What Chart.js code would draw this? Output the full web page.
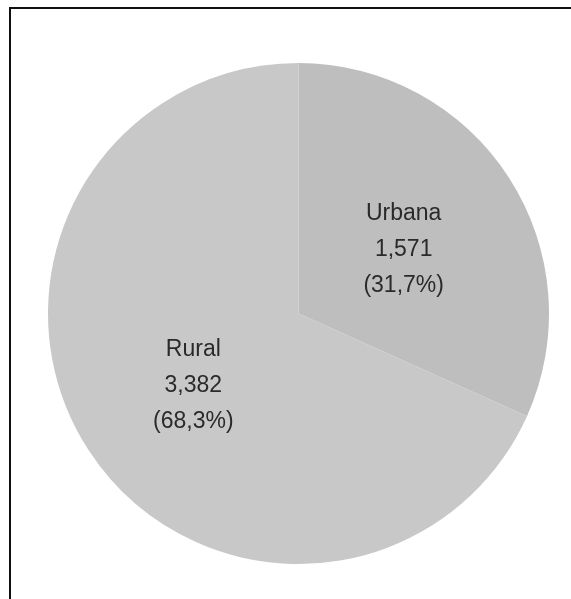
<!DOCTYPE html>
<html lang="es">
<head>
  <meta charset="UTF-8" />
  <title>Población urbana y rural</title>
  <script src="https://cdn.jsdelivr.net/npm/chart.js"></script>
  <style>
    html, body { margin: 0; padding: 0; background: #ffffff; overflow: hidden; }
    .frame {
      position: absolute; left: 9px; top: 7px; width: 640px; height: 700px;
      border: 2px solid #111;
    }
    #pieChart { position: absolute; left: 0; top: 0; }
  </style>
</head>
<body>
  <div class="frame"></div>
  <canvas id="pieChart" width="571" height="599"></canvas>

  <script>
    const categories = ['Urbana', 'Rural'];
    const values = [1571, 3382];
    const sliceColors = ['#bebebe', '#c8c8c8'];

    const total = values.reduce((a, b) => a + b, 0);

    // etiquetas dentro de cada sector: nombre, valor, porcentaje
    const sliceLabels = {
      id: 'sliceLabels',
      afterDatasetsDraw(chart) {
        const ctx = chart.ctx;
        const meta = chart.getDatasetMeta(0);
        ctx.save();
        ctx.fillStyle = '#2a2a2a';
        ctx.font = '23px "Liberation Sans", Arial, sans-serif';
        ctx.textAlign = 'center';
        ctx.textBaseline = 'middle';
        meta.data.forEach((arc, i) => {
          const p = arc.getCenterPoint();
          const v = values[i];
          const pct = (v / total * 100).toFixed(1).replace('.', ',');
          const lines = [categories[i], v.toLocaleString('en-US'), '(' + pct + '%)'];
          lines.forEach((t, k) => {
            ctx.fillText(t, p.x, p.y + 4 + (k - 1) * 36);
          });
        });
        ctx.restore();
      }
    };

    new Chart(document.getElementById('pieChart').getContext('2d'), {
      type: 'pie',
      data: {
        labels: categories,
        datasets: [{
          data: values,
          backgroundColor: sliceColors,
          borderWidth: 0
        }]
      },
      options: {
        responsive: false,
        animation: false,
        layout: { padding: { left: 48, right: 22, top: 63, bottom: 35 } },
        plugins: {
          legend: { display: false },
          tooltip: { enabled: false }
        }
      },
      plugins: [sliceLabels]
    });
  </script>
</body>
</html>
